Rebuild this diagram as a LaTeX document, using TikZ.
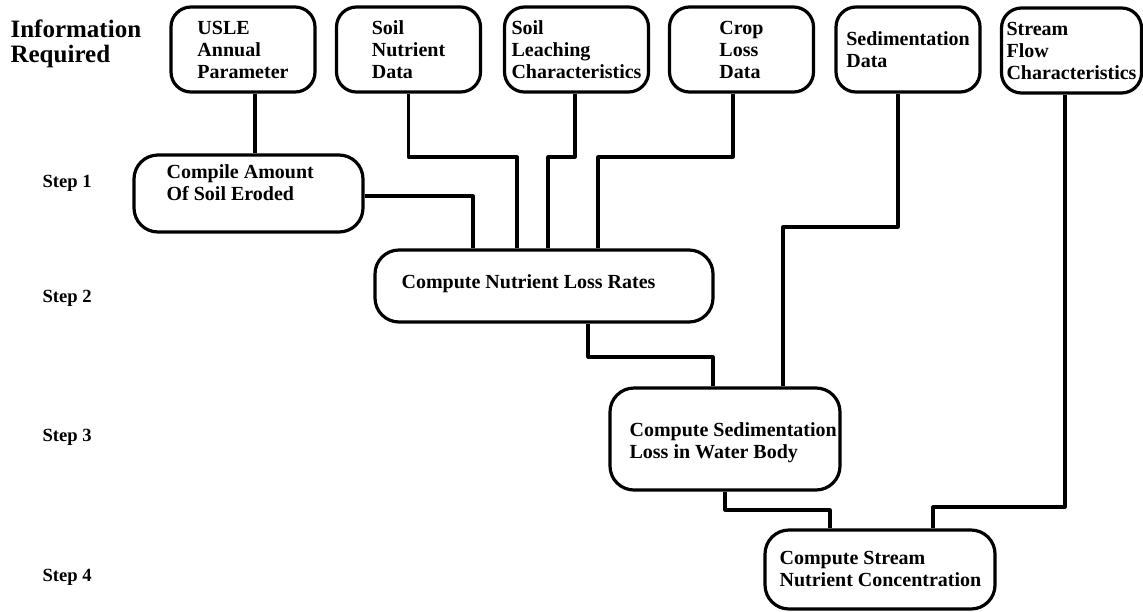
\documentclass[tikz,border=0pt]{standalone}
\usepackage{fontspec}
\setmainfont{Liberation Serif}
\usetikzlibrary{calc}

\begin{document}
\begin{tikzpicture}[x=0.5pt,y=-0.5pt,line width=1.6pt,line join=round,
  infobox/.style={draw,rounded corners=10pt,inner sep=0pt,minimum width=72pt,
    minimum height=42.5pt,align=left,font=\fontsize{10}{11}\selectfont\bfseries},
  stepbox/.style={draw,rounded corners=12pt,inner sep=0pt},
  steptext/.style={anchor=west,inner sep=0pt,align=left,
    font=\fontsize{10}{11}\selectfont\bfseries},
  steplabel/.style={anchor=west,inner sep=0pt,font=\fontsize{9.3}{10}\selectfont\bfseries}]
  \useasboundingbox (0,0) rectangle (1143,611);

  % information required
  \node[anchor=west,inner sep=0pt,align=left,font=\fontsize{12.5}{12.5}\selectfont\bfseries]
    (info) at (9,44) {Information\\Required};
  \node[infobox] (usle)  at (243,49.5)   {USLE\\Annual\\Parameter};
  \node[infobox] (nutr)  at (408.5,49.5) {Soil\\Nutrient\\Data};
  \node[infobox] (leach) at (576.5,49.5) {Soil\\Leaching\\Characteristics};
  \node[infobox] (crop)  at (741.5,49.5) {Crop\\Loss\\Data};
  \node[infobox] (sedi)  at (908,49.5)   {Sedimentation\\Data};
  \node[infobox,minimum width=70pt] (flow) at (1071.5,50.5) {Stream\\Flow\\Characteristics};

  % steps
  \node[steplabel] (l1) at (41,183) {Step 1};
  \node[steplabel] (l2) at (41,298) {Step 2};
  \node[steplabel] (l3) at (41,437) {Step 3};
  \node[steplabel] (l4) at (41,577) {Step 4};

  \node[stepbox,minimum width=114.5pt,minimum height=38.5pt] (s1) at (248.5,193.5) {};
  \node[steptext] (t1) at (165,183) {Compile Amount\\Of Soil Eroded};
  \node[stepbox,minimum width=169pt,minimum height=36pt] (s2) at (544,286) {};
  \node[steptext] (t2) at (400,284) {Compute Nutrient Loss Rates};
  \node[stepbox,minimum width=115pt,minimum height=51pt] (s3) at (725,439) {};
  \node[steptext] (t3) at (628,443) {Compute Sedimentation\\Loss in Water Body};
  \node[stepbox,minimum width=115pt,minimum height=39.5pt] (s4) at (880,569.5) {};
  \node[steptext] (t4) at (778,569) {Compute Stream\\Nutrient Concentration};

  % connectors
  \draw (usle.south -| 255,0) -- (s1.north -| 255,0);
  \draw (s1.east |- 0,196) -| (s2.north -| 473,0);
  \draw (nutr.south) |- (517,157) -- (s2.north -| 517,0);
  \draw (leach.south -| 575,0) |- (548,157) -- (s2.north -| 548,0);
  \draw (crop.south -| 733,0) |- (598,157) -- (s2.north -| 598,0);
  \draw (sedi.south -| 898,0) |- (783,227) -- (s3.north -| 783,0);
  \draw (s2.south -| 588,0) |- (713,357) -- (s3.north -| 713,0);
  \draw (s3.south -| 725,0) |- (830,510) -- (s4.north -| 830,0);
  \draw (flow.south -| 1065,0) |- (933,507) -- (s4.north -| 933,0);
\end{tikzpicture}
\end{document}
